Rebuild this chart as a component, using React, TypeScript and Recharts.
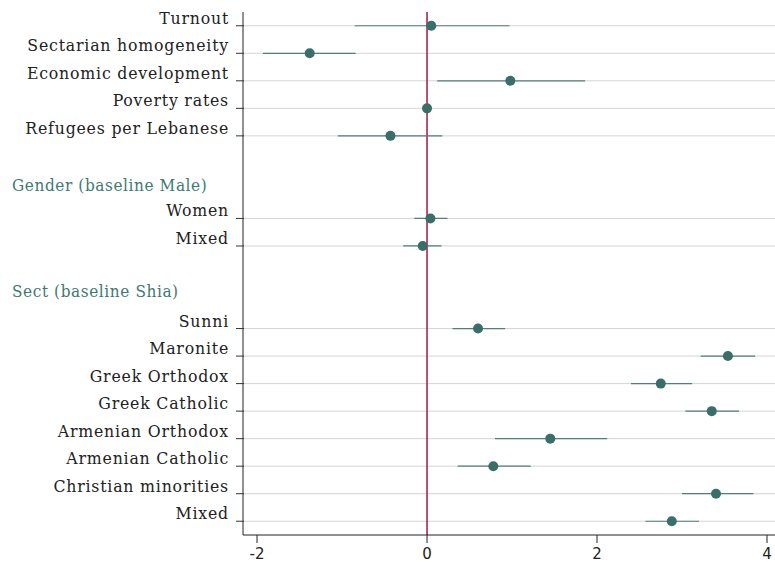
import React from 'react';
import {
    ScatterChart,
    Scatter,
    XAxis,
    YAxis,
    ErrorBar,
    ReferenceLine,
} from 'recharts';

const labels = [
    'Turnout', 'Sectarian homogeneity', 'Economic development', 'Poverty rates', 'Refugees per Lebanese',
    'Women', 'Mixed',
    'Sunni', 'Maronite', 'Greek Orthodox', 'Greek Catholic', 'Armenian Orthodox', 'Armenian Catholic', 'Christian minorities', 'Mixed',
];
const rows = [0, 1, 2, 3, 4, 7, 8, 11, 12, 13, 14, 15, 16, 17, 18];
const estimates = [0.05, -1.38, 0.98, 0.0, -0.43, 0.04, -0.05, 0.6, 3.54, 2.75, 3.35, 1.45, 0.78, 3.4, 2.88];
const lower = [-0.85, -1.93, 0.12, -0.03, -1.05, -0.15, -0.28, 0.3, 3.22, 2.4, 3.04, 0.8, 0.36, 3.0, 2.57];
const upper = [0.97, -0.84, 1.86, 0.03, 0.18, 0.24, 0.17, 0.92, 3.86, 3.12, 3.67, 2.12, 1.22, 3.84, 3.2];
const headers = [
    { row: 5.85, text: 'Gender (baseline Male)' },
    { row: 9.7, text: 'Sect (baseline Shia)' },
];
const xTicks = [-2, 0, 2, 4];

const data = rows.map((r, i) => ({
    row: r,
    est: estimates[i],
    err: [estimates[i] - lower[i], upper[i] - estimates[i]],
}));

const tickRows = [...rows, ...headers.map((h) => h.row)];
const serif = 'DejaVu Serif Condensed, DejaVu Serif, serif';

function YTick(props: any) {
    const { x, y, payload } = props;
    const header = headers.find((h) => h.row === payload.value);
    if (header) {
        return (
            <text x={12} y={y} dy={4} fill="#3d7a72" fontSize={17} letterSpacing={0.6} fontFamily={serif}>
                {header.text}
            </text>
        );
    }
    const idx = rows.indexOf(payload.value);
    return (
        <g>
            <line x1={x + 1} x2={x + 9} y1={y} y2={y} stroke="#333" strokeWidth={1} />
            <text x={x - 6} y={y} dy={-2} textAnchor="end" fill="#222" fontSize={17.5} letterSpacing={0.8} fontFamily={serif}>
                {labels[idx]}
            </text>
        </g>
    );
}

export default function App() {
    return (
        <div style={{ position: 'absolute', left: 0, top: 0, background: '#fff' }}>
            <ScatterChart width={775} height={563} margin={{ top: 12, right: 0, bottom: 0, left: 0 }}>
                <XAxis
                    type="number"
                    dataKey="est"
                    domain={[-2.165, 4.094]}
                    ticks={xTicks}
                    allowDataOverflow
                    stroke="#222"
                    tick={{ fontSize: 15, fill: '#222', fontFamily: 'DejaVu Sans, sans-serif', dy: 3 }}
                    tickSize={8}
                    height={28}
                />
                <YAxis
                    type="number"
                    dataKey="row"
                    domain={[-0.5, 18.5]}
                    reversed
                    ticks={tickRows}
                    interval={0}
                    width={243}
                    stroke="#222"
                    tickLine={false}
                    tick={<YTick />}
                />
                {rows.map((r) => (
                    <ReferenceLine key={r} y={r} stroke="#d4d4d4" strokeWidth={1} />
                ))}
                <ReferenceLine x={0} stroke="#a6173d" strokeWidth={1.5} />
                <Scatter data={data} fill="#3a6e68" isAnimationActive={false} shape={(p: any) => <circle cx={p.cx} cy={p.cy} r={5} fill="#3a6e68" />}>
                    <ErrorBar dataKey="err" direction="x" width={0} stroke="#4f807a" strokeWidth={1.2} />
                </Scatter>
            </ScatterChart>
        </div>
    );
}
